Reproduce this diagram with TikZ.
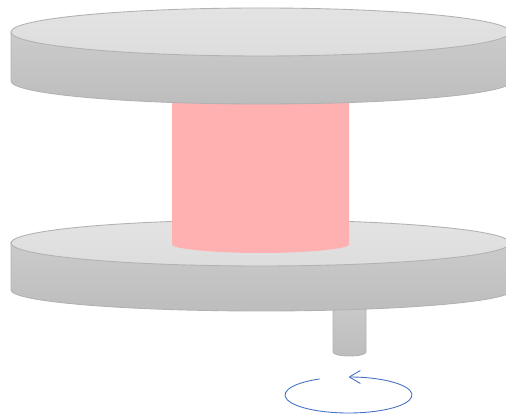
\documentclass[tikz,border=0pt]{standalone}
\usepackage{xcolor}
\usetikzlibrary{arrows.meta}
\definecolor{platetop}{HTML}{E3E3E3}
\definecolor{platemid}{HTML}{DDDDDD}
\definecolor{sidetop}{HTML}{CBCBCB}
\definecolor{sidebot}{HTML}{BDBDBD}
\definecolor{sample}{HTML}{FFB1B1}
\definecolor{spin}{HTML}{4472C4}
\begin{document}
\begin{tikzpicture}[
    x=0.02cm, y=0.02cm,
    edge/.style={draw=black!30, line width=0.5pt},
    face/.style={edge, top color=platetop, bottom color=platemid},
    side/.style={edge, top color=sidetop, bottom color=sidebot},
    rotation/.style={draw=spin, line width=0.5pt, -{Straight Barb[length=2.2mm, width=2.6mm]}}
]
\clip (0,0) rectangle (506,418);

% Shaft
\draw[side] (333,118) -- (333,66) arc[start angle=180, end angle=360, x radius=16.5, y radius=4] -- (366,118) -- cycle;

% Lower plate
\draw[side] (11,176) -- (11,128) arc[start angle=180, end angle=360, x radius=250.5, y radius=21] -- (512,176) -- cycle;
\draw[face] (260.5,175) ellipse[x radius=249.5, y radius=23];

% Sample
\fill[sample, rounded corners=1pt] (172,320) -- (172,175) arc[start angle=180, end angle=360, x radius=88.5, y radius=10] -- (349,320) -- cycle;

% Upper plate
\draw[side] (11,386) -- (11,337) arc[start angle=180, end angle=360, x radius=250.5, y radius=23] -- (512,386) -- cycle;
\draw[face] (260.5,386) ellipse[x radius=249.5, y radius=24];

% Rotation
\draw[rotation] (348.5,23) ++(117:63.5 and 18) arc[start angle=117, end angle=450, x radius=63.5, y radius=18];
\end{tikzpicture}
\end{document}
